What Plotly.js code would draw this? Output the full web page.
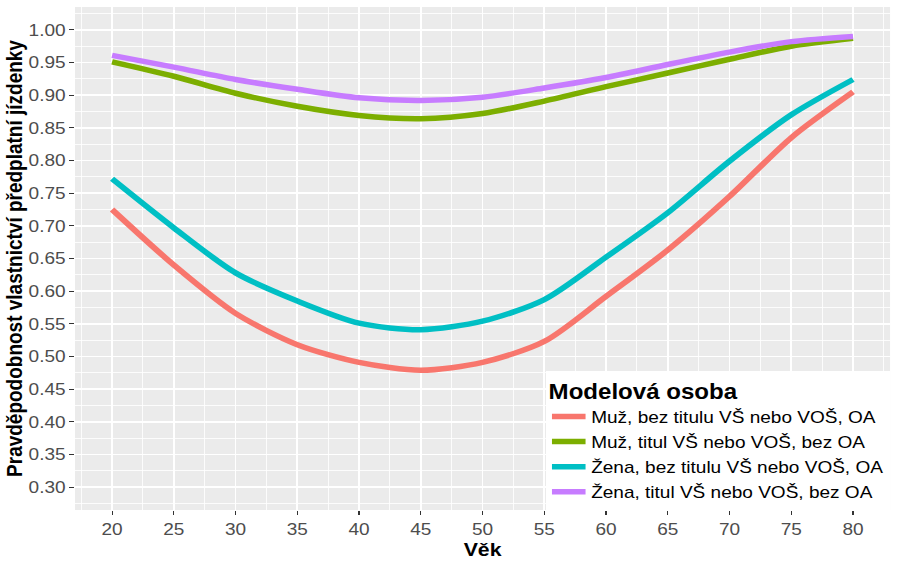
<!DOCTYPE html>
<html>
<head>
<meta charset="utf-8">
<script src="https://cdn.plot.ly/plotly-3.0.1.min.js"></script>
<style>
html,body{margin:0;padding:0;background:#fff;overflow:hidden;width:899px;height:567px;}
#chart{width:803px;height:567px;transform:scaleX(1.1196);transform-origin:0 0;}
</style>
</head>
<body>
<div id="chart"></div>
<script>
const age = [20,25,30,35,40,45,50,55,60,65,70,75,80];
const seriesNames = [
  "Muž, bez titulu VŠ nebo VOŠ, OA",
  "Muž, titul VŠ nebo VOŠ, bez OA",
  "Žena, bez titulu VŠ nebo VOŠ, OA",
  "Žena, titul VŠ nebo VOŠ, bez OA"
];
const muzBezTitulu = [0.725,0.640,0.566,0.518,0.491,0.479,0.491,0.523,0.592,0.663,0.745,0.835,0.905];
const muzTitul     = [0.951,0.929,0.903,0.883,0.869,0.864,0.872,0.891,0.913,0.934,0.955,0.975,0.987];
const zenaBezTitulu= [0.772,0.697,0.628,0.585,0.551,0.541,0.554,0.587,0.652,0.720,0.799,0.870,0.924];
const zenaTitul    = [0.961,0.943,0.924,0.909,0.896,0.892,0.897,0.911,0.927,0.947,0.966,0.982,0.990];
const colors = ["#F8766D","#7CAE00","#00BFC4","#C77CFF"];
const allY = [muzBezTitulu, muzTitul, zenaBezTitulu, zenaTitul];

const traces = allY.map((y,i)=>({
  x: age, y: y, type: 'scatter', mode: 'lines', name: seriesNames[i],
  line: {color: colors[i], width: 5.5, shape: 'spline', smoothing: 0.8}
}));

const font = "Arial, 'Liberation Sans', sans-serif";
const layout = {
  width: 803, height: 567,
  margin: {l: 67, r: 8, t: 7, b: 57},
  paper_bgcolor: '#FFFFFF',
  plot_bgcolor: '#EBEBEB',
  font: {family: font, color: '#4D4D4D'},
  xaxis: {
    range: [17, 83], dtick: 5, tick0: 20,
    showgrid: true, gridcolor: '#FFFFFF', gridwidth: 1.5,
    minor: {tick0: 17.5, dtick: 5, showgrid: true, gridcolor: '#FFFFFF', gridwidth: 0.8},
    zeroline: false, showline: false,
    ticks: 'outside', ticklen: 4, tickcolor: '#333333', tickwidth: 1,
    tickfont: {size: 17, color: '#4D4D4D', family: font},
    title: {text: '<b>Věk</b>', font: {size: 19, color: '#000000', family: font}, standoff: 0}
  },
  yaxis: {
    range: [0.265, 1.035], dtick: 0.05, tick0: 0.3, tickformat: '.2f',
    showgrid: true, gridcolor: '#FFFFFF', gridwidth: 1.5,
    minor: {tick0: 0.275, dtick: 0.05, showgrid: true, gridcolor: '#FFFFFF', gridwidth: 0.8},
    zeroline: false, showline: false,
    ticks: 'outside', ticklen: 4, tickcolor: '#333333', tickwidth: 1,
    tickfont: {size: 17, color: '#4D4D4D', family: font},
    title: {text: '<b>Pravděpodobnost vlastnictví předplatní jízdenky</b>', font: {size: 19, color: '#000000', family: font}, standoff: 0}
  },
  legend: {
    x: 1, xanchor: 'right', y: 0, yanchor: 'bottom',
    bgcolor: '#FFFFFF', borderwidth: 0,
    font: {size: 17, color: '#000000', family: font},
    title: {text: '<b>Modelová osoba</b>', font: {size: 21.5, color: '#000000', family: font}},
    tracegroupgap: 0, itemwidth: 30
  },
  showlegend: true
};
Plotly.newPlot('chart', traces, layout, {displayModeBar: false, staticPlot: true});
</script>
</body>
</html>
